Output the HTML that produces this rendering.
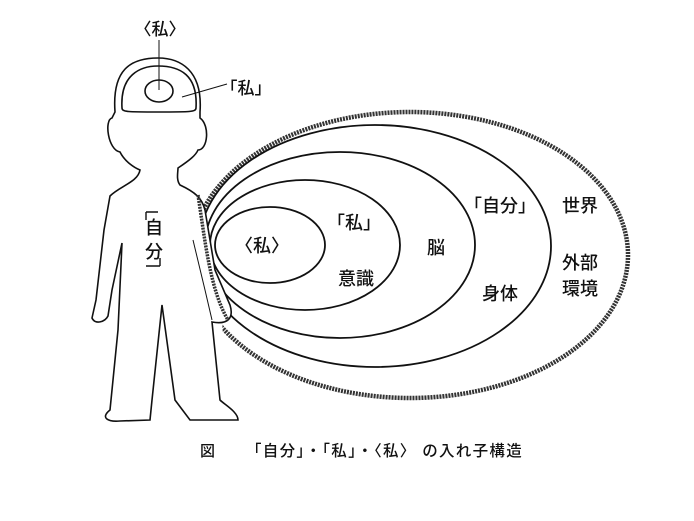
<!DOCTYPE html>
<html><head><meta charset="utf-8"><style>
html,body{margin:0;padding:0;background:#fff}
svg{display:block}
text{font-family:"Liberation Sans","Noto Sans CJK JP",sans-serif;fill:#111;font-weight:500}
</style></head><body>
<svg width="694" height="521" viewBox="0 0 694 521" xmlns="http://www.w3.org/2000/svg">
<defs>
<clipPath id="c"><polygon points="196,100 700,100 700,420 228,420 222,320 214,280 205,220 198,192"/></clipPath>
</defs>
<g clip-path="url(#c)" fill="none" stroke="#111" stroke-width="1.8">
<ellipse cx="410" cy="255" rx="218" ry="143" stroke="#333" stroke-width="4.5" stroke-dasharray="2 1"/>
<ellipse cx="375" cy="246" rx="176" ry="121"/>
<ellipse cx="340" cy="245" rx="135" ry="93"/>
<ellipse cx="305" cy="245" rx="95" ry="65"/>
</g>
<ellipse cx="270" cy="245" rx="55" ry="38" fill="none" stroke="#111" stroke-width="1.8"/>
<path d="M 140,170 C 138,182 120,186 110,196 L 104,230 L 96,300 L 92,318 C 95,325 105,322 108,316 L 112,290 L 122,243 L 118,330 L 110,410 C 100,418 108,422 120,421 L 150,420 L 152,400 L 162,305 L 175,400 L 190,420 L 238,420 C 238,412 225,405 220,400 L 212,322 C 228,325 234,318 230,305 L 215,270 L 205,210 C 202,198 195,192 180,185 C 176,180 178,172 178,168 C 190,160 196,155 198,150 C 208,150 210,125 200,118 L 200,112 C 203,70 180,58 158,58 C 130,58 112,70 115,112 L 112,118 C 104,120 108,150 120,152 C 125,162 135,168 140,170 Z" fill="#fff" stroke="#111" stroke-width="1.6"/>
<path d="M 198,195 C 205,240 210,290 228,320" fill="none" stroke="#333" stroke-width="3.5" stroke-dasharray="2 1"/>
<path d="M 193,240 L 205,290 L 212,320" fill="none" stroke="#111" stroke-width="1"/>
<path d="M 122,108 C 120,75 140,66 158,66 C 180,66 198,75 196,108 C 196,112 190,112 158,112 C 128,112 122,112 122,108 Z" fill="none" stroke="#111" stroke-width="1.6"/>
<ellipse cx="159" cy="91" rx="14" ry="11" fill="none" stroke="#111" stroke-width="1.6"/>
<line x1="159" y1="40" x2="159" y2="90" stroke="#111" stroke-width="1"/>
<line x1="182" y1="97" x2="227" y2="84" stroke="#111" stroke-width="1"/>
<text x="160" y="35" font-size="17" text-anchor="middle">〈私〉</text>
<text x="246" y="94" font-size="17" text-anchor="middle">「私」</text>
<text font-size="18" text-anchor="middle"><tspan x="154" y="234">自</tspan><tspan x="154" y="258">分</tspan></text>
<path d="M146,212 L158,212 M146,266 L160,266 M146,212 L146,220 M160,258 L160,266" stroke="#111" stroke-width="1.4" fill="none"/>
<g font-size="18" text-anchor="middle">
<text x="262" y="252">〈私〉</text>
<text x="354" y="229">「私」</text>
<text x="356" y="285">意識</text>
<text x="436" y="254">脳</text>
<text x="500" y="212">「自分」</text>
<text x="500" y="300">身体</text>
<text x="580" y="212">世界</text>
<text x="580" y="269">外部</text>
<text x="580" y="295">環境</text>
</g>
<text x="200" y="456" font-size="15">図</text>
<text x="246" y="456" font-size="15.5" letter-spacing="1.3">「自分」・「私」・〈私〉 の入れ子構造</text>
</svg>
</body></html>
